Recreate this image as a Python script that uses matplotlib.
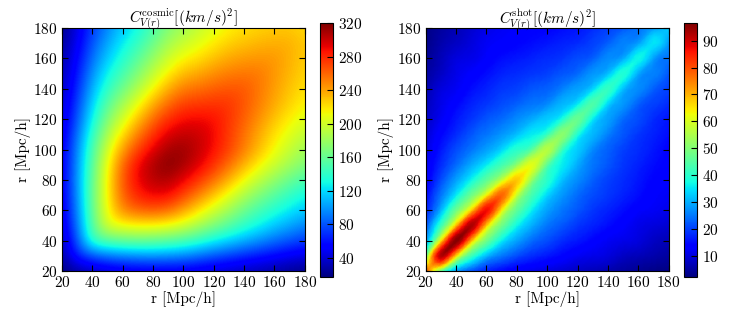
# two covariance maps of the velocity field, cosmic variance and shot noise
import numpy as np
import matplotlib.pyplot as plt
import matplotlib.tri as mtri

plt.rcParams['font.family'] = 'serif'
plt.rcParams['font.serif'] = ['cmr10']
plt.rcParams['mathtext.fontset'] = 'cm'
plt.rcParams['axes.unicode_minus'] = False
plt.rcParams['axes.formatter.use_mathtext'] = True

# separation grid, Mpc/h
r = [20, 30, 40, 50, 60, 70, 80, 90, 100, 110, 120, 130, 140, 150, 160, 170, 180]

# cosmic variance, row r[i] holds values at r >= r[i] (matrix is symmetric)
cosmic_rows = [
    [18, 25, 32, 38, 42, 44, 45, 45, 45, 42, 39, 36, 33, 30, 27, 23, 20],
    [65, 80, 90, 95, 98, 100, 98, 95, 88, 80, 73, 66, 60, 54, 48, 44],
    [145, 155, 160, 162, 160, 156, 150, 140, 128, 118, 108, 98, 88, 80, 72],
    [205, 212, 215, 215, 210, 200, 185, 170, 155, 140, 128, 115, 105, 95],
    [250, 262, 265, 260, 242, 220, 200, 182, 163, 148, 136, 125, 115],
    [283, 292, 290, 272, 252, 230, 208, 187, 170, 155, 142, 130],
    [305, 308, 293, 277, 258, 236, 212, 193, 177, 162, 150],
    [318, 310, 295, 278, 258, 236, 215, 198, 183, 170],
    [312, 302, 288, 272, 252, 232, 212, 196, 182],
    [300, 290, 274, 256, 238, 220, 206, 194],
    [288, 276, 262, 246, 230, 216, 205],
    [276, 265, 252, 238, 225, 214],
    [265, 254, 242, 230, 220],
    [254, 244, 234, 224],
    [244, 236, 227],
    [236, 228],
    [222],
]

# shot noise, same layout
shot_rows = [
    [82, 45, 28, 21, 17, 14, 12, 11, 10, 9, 8, 7, 6, 5, 4, 3, 3],
    [92, 66, 42, 31, 25, 21, 18, 16, 14, 12, 11, 10, 8, 7, 6, 5],
    [96, 70, 48, 36, 29, 24, 21, 18, 16, 14, 12, 11, 10, 8, 7],
    [93, 68, 48, 37, 30, 25, 22, 19, 17, 15, 13, 11, 10, 9],
    [87, 64, 46, 36, 29, 25, 22, 19, 17, 15, 13, 12, 11],
    [78, 58, 43, 34, 28, 24, 21, 19, 17, 15, 13, 12],
    [68, 52, 40, 32, 27, 23, 20, 18, 16, 14, 13],
    [61, 46, 36, 30, 25, 22, 19, 17, 15, 14],
    [56, 42, 33, 27, 23, 20, 18, 16, 14],
    [51, 39, 31, 26, 22, 19, 17, 15],
    [47, 36, 29, 24, 21, 18, 16],
    [44, 34, 28, 23, 20, 18],
    [41, 32, 27, 23, 20],
    [39, 30, 26, 22],
    [37, 29, 25],
    [35, 28],
    [33],
]

titles = [r'$C^{\mathrm{cosmic}}_{V(r)}[(km/s)^2]$', r'$C^{\mathrm{shot}}_{V(r)}[(km/s)^2]$']
cbar_ticks = [[40, 80, 120, 160, 200, 240, 280, 320], [10, 20, 30, 40, 50, 60, 70, 80, 90]]
color_ranges = [(17, 320), (2.2, 96.5)]


def full_matrix(rows):
    n = len(rows)
    m = np.zeros((n, n))
    for i, row in enumerate(rows):
        m[i, i:] = row
        m[i:, i] = row
    return m


def grid_triangulation(r):
    # split every cell along the x = y direction so the diagonal ridge stays smooth
    n = len(r)
    X, Y = np.meshgrid(r, r)
    tris = []
    for j in range(n - 1):
        for i in range(n - 1):
            a = j * n + i
            b = a + 1
            c = a + n
            d = c + 1
            tris.append([a, b, d])
            tris.append([a, d, c])
    return mtri.Triangulation(X.ravel(), Y.ravel(), tris)


fig = plt.figure(figsize=(7.47, 3.12), dpi=100)
ax_pos = [[0.083, 0.131, 0.325, 0.779], [0.570, 0.131, 0.325, 0.779]]
cb_pos = [[0.4284, 0.112, 0.0180, 0.814], [0.9157, 0.112, 0.0180, 0.814]]
half = (r[1] - r[0]) / 2.0

# left: broad smooth bump, plain bicubic image
ax1 = fig.add_axes(ax_pos[0])
im1 = ax1.imshow(full_matrix(cosmic_rows), origin='lower', cmap='jet',
                 interpolation='bicubic', aspect='auto',
                 vmin=color_ranges[0][0], vmax=color_ranges[0][1],
                 extent=[r[0] - half, r[-1] + half, r[0] - half, r[-1] + half])

# right: narrow diagonal ridge, cubic interpolation on a diagonal-split mesh
ax2 = fig.add_axes(ax_pos[1])
triang = grid_triangulation(r)
z = full_matrix(shot_rows).ravel()
interp = mtri.CubicTriInterpolator(triang, z, kind='min_E')
tri_fine, z_fine = mtri.UniformTriRefiner(triang).refine_field(z, triinterpolator=interp, subdiv=3)
im2 = ax2.tripcolor(tri_fine, z_fine, shading='gouraud', cmap='jet',
                    vmin=color_ranges[1][0], vmax=color_ranges[1][1])

for k, (ax, im) in enumerate([(ax1, im1), (ax2, im2)]):
    cax = fig.add_axes(cb_pos[k])
    ax.set_xlim(20, 180)
    ax.set_ylim(20, 180)
    ax.set_xticks(range(20, 181, 20))
    ax.set_yticks(range(20, 181, 20))
    ax.tick_params(direction='in', top=True, right=True, labelsize=11, length=4, pad=3)
    ax.set_xlabel('r [Mpc/h]', fontsize=11, labelpad=1)
    ax.set_ylabel('r [Mpc/h]', fontsize=11, labelpad=2)
    ax.set_title(titles[k], fontsize=11, pad=3)
    cb = fig.colorbar(im, cax=cax, ticks=cbar_ticks[k])
    cb.ax.tick_params(direction='in', labelsize=11, length=4, pad=3)

fig.savefig('out.png', dpi=100)
